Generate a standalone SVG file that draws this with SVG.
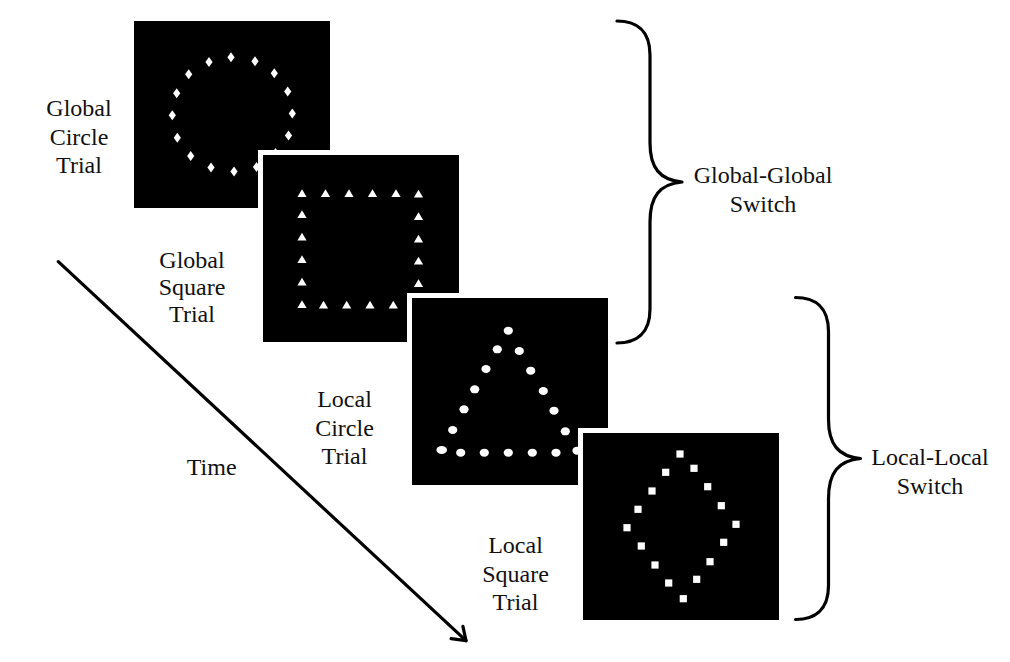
<svg xmlns="http://www.w3.org/2000/svg" xmlns:xlink="http://www.w3.org/1999/xlink" width="1010" height="662" viewBox="0 0 1010 662">
<style>
.lbl{font-family:"Liberation Serif","Times New Roman",serif;font-size:24px;fill:#111;text-anchor:middle}
.panel{fill:#000}
.gap{fill:#fff}
.st{fill:#fff}
.brace{fill:none;stroke:#000;stroke-width:3.2;stroke-linecap:round;stroke-linejoin:round}
.arrow{fill:none;stroke:#000;stroke-width:3.2;stroke-linecap:round;stroke-linejoin:round}
</style>
<defs>
<path id="dia" d="M0,-5 L3.6,0 L0,5 L-3.6,0Z" class="st"/>
<path id="tri" d="M0,-4.2 L4.6,3.6 L-4.6,3.6Z" class="st"/>
<ellipse id="dot" rx="4.6" ry="4" class="st"/>
<rect id="sq" x="-3.6" y="-3.6" width="7.2" height="7.2" class="st"/>
<path id="bracePath" d="M617,21 C636,21 650,30 650,55 L650,143 C650,168 660,180 682,182 C660,184 650,196 650,222 L650,309 C650,334 636,343 617,343"/>
</defs>

<g id="panel-global-circle">
<rect class="panel" x="134" y="21" width="196" height="187"/>
<use xlink:href="#dia" x="231" y="57.3"/>
<use xlink:href="#dia" x="255" y="61.3"/>
<use xlink:href="#dia" x="274.3" y="73.3"/>
<use xlink:href="#dia" x="287.7" y="91.5"/>
<use xlink:href="#dia" x="292.3" y="113.5"/>
<use xlink:href="#dia" x="288.5" y="135.5"/>
<use xlink:href="#dia" x="275.5" y="153"/>
<use xlink:href="#dia" x="256.5" y="167"/>
<use xlink:href="#dia" x="234" y="171.5"/>
<use xlink:href="#dia" x="211" y="167.5"/>
<use xlink:href="#dia" x="190.7" y="156"/>
<use xlink:href="#dia" x="177.3" y="137.7"/>
<use xlink:href="#dia" x="172.3" y="115.3"/>
<use xlink:href="#dia" x="176.7" y="93.3"/>
<use xlink:href="#dia" x="188.7" y="74.3"/>
<use xlink:href="#dia" x="209" y="62"/>
</g>

<g id="panel-global-square">
<rect class="gap" x="258" y="150" width="206" height="197"/>
<rect class="panel" x="263" y="155" width="196" height="187"/>
<use xlink:href="#tri" x="302" y="193.5"/>
<use xlink:href="#tri" x="325.5" y="193.5"/>
<use xlink:href="#tri" x="349" y="193.5"/>
<use xlink:href="#tri" x="372.5" y="193.5"/>
<use xlink:href="#tri" x="396" y="193.5"/>
<use xlink:href="#tri" x="418.5" y="194"/>
<use xlink:href="#tri" x="302" y="214.5"/>
<use xlink:href="#tri" x="302" y="237"/>
<use xlink:href="#tri" x="302" y="259.5"/>
<use xlink:href="#tri" x="302" y="282"/>
<use xlink:href="#tri" x="302" y="304.5"/>
<use xlink:href="#tri" x="418.5" y="216.5"/>
<use xlink:href="#tri" x="418.5" y="239"/>
<use xlink:href="#tri" x="418.5" y="261"/>
<use xlink:href="#tri" x="418.5" y="283.5"/>
<use xlink:href="#tri" x="323.5" y="305"/>
<use xlink:href="#tri" x="346.7" y="305"/>
<use xlink:href="#tri" x="370" y="305"/>
<use xlink:href="#tri" x="393.3" y="305"/>
<use xlink:href="#tri" x="418.5" y="305"/>
</g>

<g id="panel-local-circle">
<rect class="gap" x="407" y="293" width="206" height="197"/>
<rect class="panel" x="412" y="298" width="196" height="187"/>
<use xlink:href="#dot" x="508.3" y="330.7"/>
<use xlink:href="#dot" x="497.3" y="349.3"/>
<use xlink:href="#dot" x="519.3" y="351"/>
<use xlink:href="#dot" x="486" y="369"/>
<use xlink:href="#dot" x="530.7" y="370.7"/>
<use xlink:href="#dot" x="474.7" y="389.3"/>
<use xlink:href="#dot" x="543.3" y="391"/>
<use xlink:href="#dot" x="464" y="409.3"/>
<use xlink:href="#dot" x="554" y="410.7"/>
<use xlink:href="#dot" x="452.7" y="430"/>
<use xlink:href="#dot" x="565.3" y="431.3"/>
<ellipse class="st" cx="441.7" cy="450" rx="5.3" ry="4"/>
<use xlink:href="#dot" x="460.7" y="452.7"/>
<use xlink:href="#dot" x="484.3" y="452.7"/>
<use xlink:href="#dot" x="508.3" y="452.7"/>
<use xlink:href="#dot" x="532.3" y="452.7"/>
<use xlink:href="#dot" x="556" y="452.7"/>
<use xlink:href="#dot" x="577" y="450.7"/>
</g>

<g id="panel-local-square">
<rect class="gap" x="578" y="428" width="206" height="197"/>
<rect class="panel" x="583" y="433" width="196" height="187"/>
<use xlink:href="#sq" x="680" y="454"/>
<use xlink:href="#sq" x="694" y="468.3"/>
<use xlink:href="#sq" x="665.7" y="472.3"/>
<use xlink:href="#sq" x="707.7" y="486.7"/>
<use xlink:href="#sq" x="652" y="491"/>
<use xlink:href="#sq" x="721.3" y="505.7"/>
<use xlink:href="#sq" x="638" y="509.3"/>
<use xlink:href="#sq" x="736" y="524.3"/>
<use xlink:href="#sq" x="627" y="527.7"/>
<use xlink:href="#sq" x="723.7" y="542.3"/>
<use xlink:href="#sq" x="641.3" y="546"/>
<use xlink:href="#sq" x="710" y="561.7"/>
<use xlink:href="#sq" x="655" y="565"/>
<use xlink:href="#sq" x="696.7" y="579.3"/>
<use xlink:href="#sq" x="668.7" y="583"/>
<use xlink:href="#sq" x="683.3" y="598.7"/>
</g>

<g id="label-global-circle" class="lbl">
<text x="79" y="116">Global</text>
<text x="79" y="145">Circle</text>
<text x="79" y="172.5">Trial</text>
</g>
<g id="label-global-square" class="lbl">
<text x="192" y="267.7">Global</text>
<text x="192" y="295">Square</text>
<text x="192" y="322.3">Trial</text>
</g>
<g id="label-local-circle" class="lbl">
<text x="344.5" y="406.7">Local</text>
<text x="344.5" y="436">Circle</text>
<text x="344.5" y="464">Trial</text>
</g>
<g id="label-local-square" class="lbl">
<text x="515.5" y="553.3">Local</text>
<text x="515.5" y="581.7">Square</text>
<text x="515.5" y="610">Trial</text>
</g>
<g id="label-time" class="lbl">
<text x="211.7" y="475">Time</text>
</g>

<g id="brace-global">
<use xlink:href="#bracePath" class="brace"/>
<g class="lbl">
<text x="763" y="183.3">Global-Global</text>
<text x="763" y="211.7">Switch</text>
</g>
</g>
<g id="brace-local">
<use xlink:href="#bracePath" class="brace" transform="translate(178.5,276.5)"/>
<g class="lbl">
<text x="930" y="465">Local-Local</text>
<text x="930" y="493.5">Switch</text>
</g>
</g>

<g id="connectors">
<path class="arrow" d="M58.3,261.7 L466,640.7"/>
<polyline class="arrow" points="451.1,638.6 466,640.7 462.9,626.3"/>
</g>
</svg>
